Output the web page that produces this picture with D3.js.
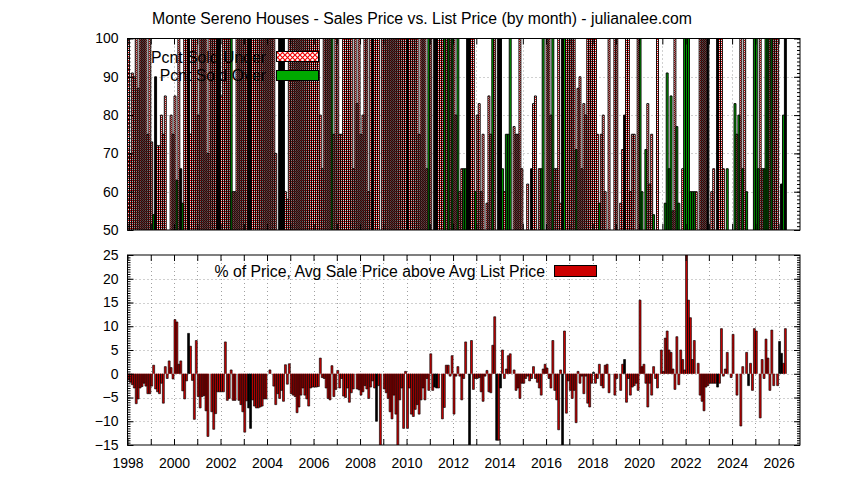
<!DOCTYPE html>
<html><head><meta charset="utf-8">
<script src="https://cdn.jsdelivr.net/npm/d3@7"></script>
<style>body{margin:0;background:#fff}svg{display:block}</style>
</head><body>
<svg id="chart" width="844" height="480"></svg>
<script>
const chartTitle = "Monte Sereno Houses - Sales Price vs. List Price (by month) - julianalee.com";
const startYear = 1998;
const yearTicks = d3.range(1998, 2027);
const yearLabels = d3.range(1998, 2027, 2);
const topTicks = [50, 60, 70, 80, 90, 100];
const bottomTicks = [-15, -10, -5, 0, 5, 10, 15, 20, 25];
const legendTop = ["Pcnt Sold Under", "Pcnt Sold Over"];
const legendBottom = "% of Price, Avg Sale Price above Avg List Price";

// bottom panel: % avg sale price above avg list price, monthly from Jan 1998
const pctAbove = [
 -1.3,-1.8,-2.3,-3.0,-6.3,-5.3,-3.0,-2.7,-2.0,-2.6,-4.2,-4.2,
 -2.6,1.8,-3.2,-3.8,-4.2,-2.0,-6.2,1.5,-1.0,2.7,1.3,-1.1,
 11.4,10.9,2.0,2.7,-3.6,-5.3,-1.5,8.5,5.8,-1.4,-9.6,7.0,
 -4.8,-7.2,-4.8,-4.6,-7.8,-13.2,0,-8.0,-11.7,-8.4,-3.8,-3.8,
 -3.8,-3.8,6.7,-5.6,-5.2,0.8,-5.6,-5.6,0,-5.6,-6.5,-8.0,
 -12.3,-5.7,-7.2,-11.5,-5.5,-6.8,-7.2,-7.2,-7.0,-6.8,-5.3,-5.3,
 0,0.8,0,-2.6,-6.5,-4.2,-5.2,-3.5,-5.8,1.9,-2.2,2.1,
 -4.2,-4.5,-4.8,-8.2,-7.0,-4.5,-3.0,-4.5,-5.3,-6.8,-3.0,-2.8,
 -2.8,-2.8,-2.7,3.3,-0.8,-1.0,-3.0,-5.2,-5.5,1.7,-4.8,-3.3,
 0.7,-3.0,-1.0,-4.7,-5.0,-3.0,-6.0,-4.0,-3.2,0,-3.2,-3.4,
 -4.5,-3.8,-2.5,-3.2,-5.2,-2.8,-1.5,-3.0,-10.0,-2.5,-15.5,0,
 -3.2,-4.0,-5.2,-8.0,-9.5,-4.5,-8.5,-15.5,-5.5,-3.0,-11.5,0.5,
 -11.5,-3.0,-8.5,-9.0,-7.5,-6.5,-8.5,-5.5,-3.0,-5.5,-1.0,-3.5,
 4.2,-3.5,-2.8,-3.0,-3.0,0,-9.5,-7.1,1.8,1.8,-0.5,3.8,
 -8.5,-0.5,1.5,-0.5,-5.5,-1.0,6.7,0,-15.5,7.0,-3.3,-1.0,
 -1.0,-0.8,-3.8,-5.8,-0.5,0.7,-3.8,-4.0,6.0,12.0,-14.0,-14.0,
 -3.0,5.0,-1.0,1.0,3.8,4.2,0,0.8,-3.5,-3.0,-5.2,-2.0,
 -2.0,-1.0,-0.5,-1.5,-1.0,1.5,-1.0,-1.8,-3.0,-4.5,1.0,2.0,
 1.2,-1.0,-3.0,7.0,-3.5,-5.5,-11.8,0.8,-15.5,9.0,-8.3,-1.5,
 -3.5,-5.2,-3.5,-10.3,0.5,-2.0,-0.5,-4.2,-0.5,-6.2,-7.0,-2.0,
 0.3,-2.0,-1.0,2.0,-2.5,-3.0,1.8,2.0,-4.0,0,0,-4.5,
 -1.0,0,-3.5,2.0,3.0,-6.0,-1.0,-4.5,-2.8,-2.5,-2.0,-3.5,
 15.5,1.5,2.0,-2.0,-7.0,-2.0,-4.5,1.5,-1.0,-3.0,0,5.0,
 0.5,7.5,9.0,5.0,4.5,1.0,-3.3,7.8,-2.3,5.0,3.0,0.8,
 27.0,15.5,11.8,3.0,7.0,0,2.2,-4.5,-5.8,-7.8,-2.8,-2.5,
 -2.0,-2.0,-2.0,-2.0,-2.8,-2.0,9.5,-0.5,1.0,4.5,0,-0.8,
 8.3,0,-4.5,0,-11.0,1.5,0,4.5,-2.5,2.2,-3.5,9.5,
 9.0,0,-9.3,3.0,-1.0,7.3,3.3,-3.5,9.2,-2.5,0,-2.5,
 6.8,4.3,2.2,9.5
];
// months (index from Jan 1998) whose bar is drawn solid black
const darkMonths = [31, 62, 63, 128, 158, 159, 176, 190, 192, 224, 240, 256, 304, 320, 336, 337];

// top panel: percent of sales per month; series code per month
// u = sold under list, o = sold over list, b = dark series; 0 = no bar
const topPct = [
 100,70,91,90,100,87,100,100,100,100,75,100,
 73,54,90,72,72,80,75,85,0,0,80,75,
 85,63,100,66,57,100,100,100,75,100,100,100,
 80,100,100,100,100,70,100,100,100,100,100,100,
 85,100,100,100,100,100,60,60,100,100,100,100,
 100,100,100,100,100,100,100,100,100,100,100,100,
 100,100,100,100,70,0,100,100,100,60,58,100,
 100,100,100,100,100,100,100,100,100,100,100,100,
 100,100,100,80,66,100,100,100,100,100,75,100,
 100,75,75,100,100,100,100,100,66,100,83,100,
 75,80,100,100,60,100,100,100,100,100,0,100,
 100,100,100,100,100,100,100,100,100,100,100,100,
 100,100,100,100,100,100,75,100,100,100,66,100,
 100,0,100,100,100,100,100,100,100,100,100,100,
 100,80,100,60,66,66,66,100,100,100,100,60,
 80,83,60,75,0,57,85,75,100,100,0,100,
 100,66,60,75,75,100,0,77,75,75,100,66,
 0,0,62,0,66,83,85,0,66,66,100,0,
 100,100,80,100,66,66,100,57,100,100,100,100,
 100,100,100,71,87,90,66,83,80,100,100,100,
 100,100,75,57,75,80,60,0,100,0,0,100,
 100,0,57,71,80,100,100,60,75,75,0,100,
 100,60,0,71,83,62,75,54,0,100,0,0,
 0,57,91,66,85,55,100,77,57,0,66,100,
 100,100,60,60,60,60,0,100,100,100,100,100,
 0,60,66,0,100,100,100,66,0,66,0,0,
 0,83,75,80,100,66,100,60,0,0,0,100,
 100,66,100,66,66,100,100,100,100,100,100,100,
 0,62,80,100
];
const topKind =
 "uuuuuuuuuuuu" + "uobuuuuuuuuu" + "uoubouubuuuu" + "uuuuuuuuuubb" +
 "uuuuuouuuuuu" + "uubbuuuuuuuu" + "uuuuuubbbuuu" + "uuuuuuuuuuuu" +
 "uuuuuuuuuouu" + "uuuuuuuuuuuu" + "uuuuuubuuuuu" + "uuuuuuuuuuuu" +
 "buuuuuuuuuuo" + "uubbuuuououo" + "uuouuoobbuuo" + "uuuuuuuuouub" +
 "bouoooouuuuu" + "uuuubuuuuoou" + "uuuouuuubouu" + "uuuouuuuuuuu" +
 "uuuouuuuuuuu" + "uuuubuuuuuuu" + "oououuuouuuu" + "uoooouuoouuo" +
 "ooooouuuuuub" + "uuuubuuuuouu" + "uououououuuo" + "oouuooououuu" + "ubob";

const W = 844, H = 480;
const left = 127.5, right = 800;
const svg = d3.select("#chart");
svg.append("rect").attr("width", W).attr("height", H).attr("fill", "#fff");

const x = d3.scaleLinear().domain([1998, 2026.92]).range([left, right]);
const monthX = i => x(startYear + i / 12);

const yTop = d3.scaleLinear().domain([50, 100]).range([230, 38.5]);
const yBot = d3.scaleLinear().domain([-15, 25]).range([445, 255]);

const defs = svg.append("defs");
const pat = defs.append("pattern").attr("id", "chk").attr("width", 2).attr("height", 2)
  .attr("patternUnits", "userSpaceOnUse");
pat.append("rect").attr("width", 2).attr("height", 2).attr("fill", "#fff");
pat.append("rect").attr("width", 1).attr("height", 1).attr("fill", "#f00000");
pat.append("rect").attr("x", 1).attr("y", 1).attr("width", 1).attr("height", 1).attr("fill", "#f00000");
const pat2 = defs.append("pattern").attr("id", "chkL").attr("width", 5).attr("height", 5)
  .attr("patternUnits", "userSpaceOnUse");
pat2.append("rect").attr("width", 5).attr("height", 5).attr("fill", "#fff");
pat2.append("path").attr("d", "M0,0L5,5M5,0L0,5").attr("stroke", "#f00000").attr("stroke-width", 1.1);

defs.append("clipPath").attr("id", "clipTop").append("rect")
  .attr("x", left).attr("y", yTop(100)).attr("width", right - left).attr("height", yTop(50) - yTop(100));
defs.append("clipPath").attr("id", "clipBot").append("rect")
  .attr("x", left).attr("y", yBot(25)).attr("width", right - left).attr("height", yBot(-15) - yBot(25));

const FONT = "Liberation Sans, Arial, sans-serif";
const gridColor = "#a0a0a0";

function grid(y, ticks) {
  const g = svg.append("g");
  const [y0, y1] = y.range();
  g.append("g").selectAll("line").data(ticks.filter(t => y(t) < y0 - 1 && y(t) > y1 + 1)).join("line")
    .attr("x1", left).attr("x2", right).attr("y1", d => Math.round(y(d)) + 0.5).attr("y2", d => Math.round(y(d)) + 0.5)
    .attr("stroke", gridColor).attr("stroke-width", 1).attr("stroke-dasharray", "1,3");
  g.append("g").selectAll("line").data(yearTicks.filter(t => x(t) > left + 1)).join("line")
    .attr("x1", d => Math.round(x(d)) + 0.5).attr("x2", d => Math.round(x(d)) + 0.5).attr("y1", y1).attr("y2", y0)
    .attr("stroke", gridColor).attr("stroke-width", 1).attr("stroke-dasharray", "1,3");
}

function frame(y, ticks, minorStep, showXLabels) {
  const [y0, y1] = y.range();
  const dom = y.domain();
  const minor = d3.range(dom[0], dom[1] + 1e-9, minorStep);
  const ax = svg.append("g");
  const axes = [
    ax.append("g").attr("transform", `translate(${left},0)`)
      .call(d3.axisLeft(y).tickValues(ticks).tickSize(-6).tickPadding(9).tickFormat(d3.format("d"))),
    ax.append("g").attr("transform", `translate(${left},0)`)
      .call(d3.axisLeft(y).tickValues(minor).tickSize(-3).tickFormat("")),
    ax.append("g").attr("transform", `translate(${right},0)`)
      .call(d3.axisRight(y).tickValues(ticks).tickSize(-6).tickFormat("")),
    ax.append("g").attr("transform", `translate(${right},0)`)
      .call(d3.axisRight(y).tickValues(minor).tickSize(-3).tickFormat("")),
    ax.append("g").attr("transform", `translate(0,${y0})`)
      .call(d3.axisBottom(x).tickValues(yearTicks).tickSize(-6).tickPadding(13)
        .tickFormat(d => showXLabels && yearLabels.includes(d) ? String(d) : "")),
    ax.append("g").attr("transform", `translate(0,${y1})`)
      .call(d3.axisTop(x).tickValues(yearTicks).tickSize(-6).tickFormat(""))
  ];
  axes.forEach(a => {
    a.attr("font-family", FONT).attr("font-size", 14);
    a.select(".domain").remove();
    a.selectAll("line").attr("stroke", "#000").attr("stroke-width", 1);
    a.selectAll("text").attr("fill", "#000");
  });
  ax.append("rect").attr("x", left).attr("y", y1).attr("width", right - left).attr("height", y0 - y1)
    .attr("fill", "none").attr("stroke", "#000").attr("stroke-width", 1);
}

// box with gnuplot-like outline (left side, cap, right side)
function drawBoxes(g, data, yScale, base, fillFn, edgeW) {
  const yb = yScale(base);
  const items = data.map(d => ({ d, p0: monthX(d.i), p1: monthX(d.i + 1), yv: yScale(d.v) }));
  g.selectAll("rect.fill").data(items).join("rect").attr("class", "fill")
    .attr("x", o => o.p0).attr("width", o => o.p1 - o.p0)
    .attr("y", o => Math.min(o.yv, yb)).attr("height", o => Math.abs(yb - o.yv))
    .attr("fill", o => fillFn(o.d));
  g.selectAll("path.edge").data(items).join("path").attr("class", "edge")
    .attr("d", o => `M${o.p0},${yb}V${o.yv}H${o.p1}V${yb}`)
    .attr("fill", "none").attr("stroke", "#000").attr("stroke-width", edgeW);
}

// ---- top panel ----
grid(yTop, topTicks);
const topData = topPct.map((v, i) => ({ i, v: Math.min(v, 100.8), k: topKind[i] })).filter(d => d.v > 50);
const gTop = svg.append("g").attr("clip-path", "url(#clipTop)");
const topFill = { u: "url(#chk)", o: "#00aa00", b: "#000" };
drawBoxes(gTop, topData, yTop, 49, d => topFill[d.k], 0.95);
frame(yTop, topTicks, 1, false);

const lg = svg.append("g").attr("font-family", FONT).attr("font-size", 15.8).attr("fill", "#000");
lg.append("text").attr("x", 266).attr("y", 57).attr("dy", "0.35em").attr("text-anchor", "end").text(legendTop[0]);
lg.append("text").attr("x", 266).attr("y", 75).attr("dy", "0.35em").attr("text-anchor", "end").text(legendTop[1]);
lg.append("rect").attr("x", 276.5).attr("y", 51.5).attr("width", 42).attr("height", 10)
  .attr("fill", "url(#chkL)").attr("stroke", "#000");
lg.append("rect").attr("x", 276.5).attr("y", 70.5).attr("width", 42).attr("height", 10)
  .attr("fill", "#00aa00").attr("stroke", "#000");

// ---- bottom panel ----
grid(yBot, bottomTicks);
const botData = pctAbove.map((v, i) => ({ i, v, dark: darkMonths.includes(i) })).filter(d => d.v !== 0);
const gBot = svg.append("g").attr("clip-path", "url(#clipBot)");
drawBoxes(gBot, botData, yBot, 0, d => d.dark ? "#000" : "#cc0000", 0.65);
frame(yBot, bottomTicks, 0.5, true);

const lb = svg.append("g").attr("font-family", FONT).attr("font-size", 15.8).attr("fill", "#000");
lb.append("text").attr("x", 545).attr("y", 271).attr("dy", "0.35em").attr("text-anchor", "end").text(legendBottom);
lb.append("rect").attr("x", 554.5).attr("y", 265.5).attr("width", 42).attr("height", 11)
  .attr("fill", "#cc0000").attr("stroke", "#000");

svg.append("text").attr("x", W / 2).attr("y", 18).attr("dy", "0.35em").attr("text-anchor", "middle")
  .attr("font-family", FONT).attr("font-size", 15.8).attr("fill", "#000").text(chartTitle);
</script>
</body></html>
